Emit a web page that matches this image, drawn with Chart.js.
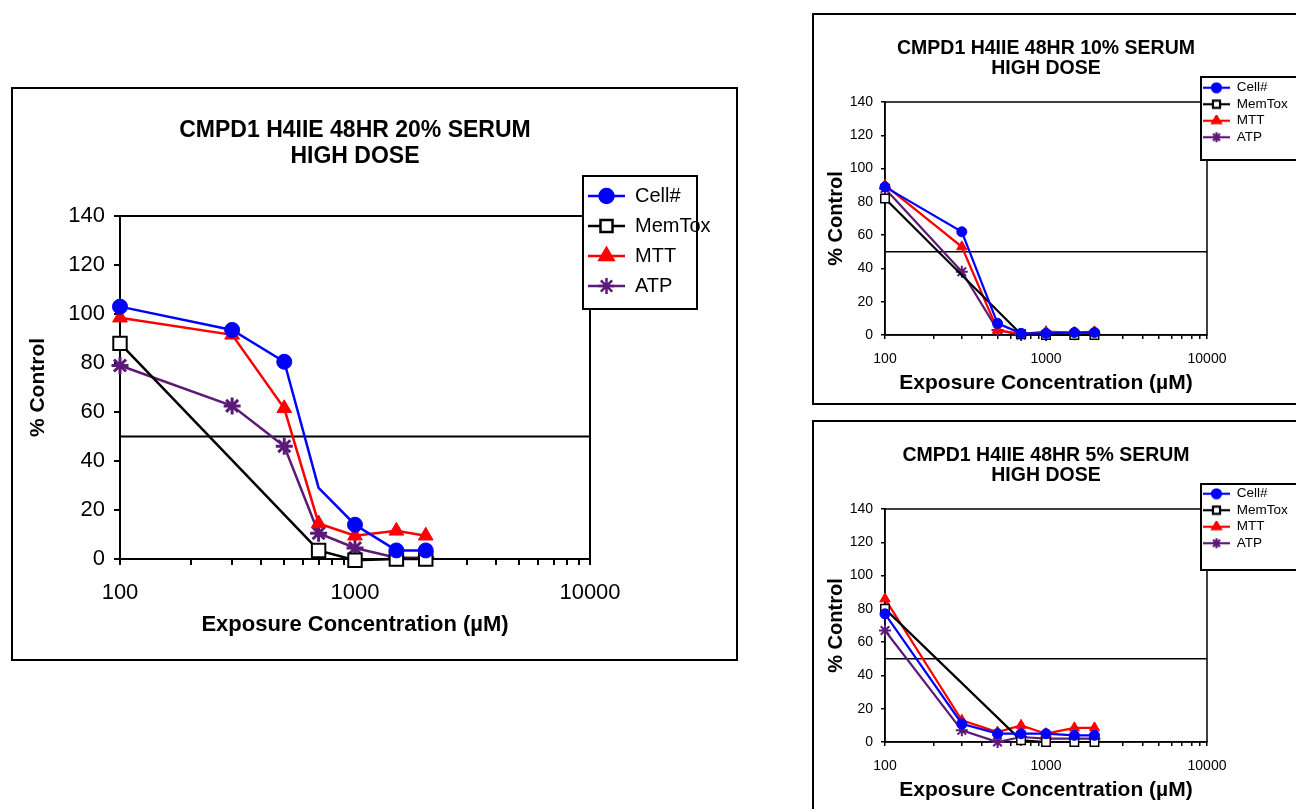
<!DOCTYPE html>
<html>
<head>
<meta charset="utf-8">
<script src="https://cdn.jsdelivr.net/npm/chart.js@4/dist/chart.umd.min.js"></script>
<style>
html, body { margin: 0; padding: 0; background: #fff; width: 1296px; height: 809px; overflow: hidden; }
.box { position: absolute; box-sizing: border-box; border: 2px solid #000; background: #fff; }
.box canvas { display: block; }
</style>
</head>
<body>
<div class="box" style="left:11px;top:87px;width:727px;height:574px"><canvas id="c20" width="723" height="570"></canvas></div>
<div class="box" style="left:812px;top:13px;width:500px;height:392px"><canvas id="c10" width="496" height="388"></canvas></div>
<div class="box" style="left:812px;top:420px;width:500px;height:392px"><canvas id="c5" width="496" height="388"></canvas></div>
<script>
// x values (µM)
const concentrations = [100, 300, 500, 700, 1000, 1500, 2000];
const seriesNames = ['Cell#', 'MemTox', 'MTT', 'ATP'];

// 20% serum
const cell20   = [103, 93.5, 80.5, 29, 14, 3.5, 3.5];
const memtox20 = [88, null, null, 3.5, -0.5, 0, 0];
const mtt20    = [98.5, 91.5, 61.5, 14.5, 9.5, 11.5, 9.5];
const atp20    = [79, 62.5, 46, 10.5, 4.5, 0.5, 0.5];

// 10% serum
const cell10   = [89, 62, 7, 1, 1, 1.5, 1.5];
const memtox10 = [82, null, null, 0.5, 0, 0, 0];
const mtt10    = [90, 53, 3, 0.5, 2, 1.5, 2];
const atp10    = [88, 38, 3, 0, 0, 0.5, 1];

// 5% serum
const cell5    = [77, 11, 5, 5, 5, 4, 4];
const memtox5  = [80, null, null, 1, 0, 0, 0];
const mtt5     = [86, 13, 6, 10, 5, 8.5, 8.5];
const atp5     = [67, 7, 0, 3, 2, 2, 2];

// 50% line
const cutoffX = [100, 10000];
const cutoffY = [50, 50];

// axis ticks
const xTickValues = [100, 200, 300, 400, 500, 600, 700, 800, 900,
                     1000, 2000, 3000, 4000, 5000, 6000, 7000, 8000, 9000, 10000];
const xTickLabels = [100, 1000, 10000];

Chart.defaults.font.family = "'Liberation Sans', Arial, sans-serif";
Chart.defaults.color = '#000';

const styles = [
  { color: '#0000ff', fill: '#0000ff', pointStyle: 'circle' },
  { color: '#000000', fill: '#ffffff', pointStyle: 'rect' },
  { color: '#ff0000', fill: '#ff0000', pointStyle: 'triangle' },
  { color: '#5c1a78', fill: '#5c1a78', pointStyle: 'star' }
];

// sizes for big / small panels
const big = {
  w: 723, right: 577, yW: 107, xH: 100,
  titleSize: 23, titleLH: 25.5, titlePad: { top: 29, bottom: 47 },
  tickSize: 22, tickLen: 6, xTickPad: 15, yTickPad: 9,
  xTitleSize: 22, yTitleSize: 21, xTitlePad: 21, yTitlePad: 13,
  lineW: 2.5, axisW: 2,
  radius: [7.5, 9.5, 8.5, 8.5], pbw: [1, 2, 1, 3],
  legendFont: 20, legendPad: 10, iconW: 37, iconH: 20, iconR: [7, 8.5, 8, 8],
  box: { x: 570, y: 87, w: 114, h: 133 }, legendLeft: 565, legendTop: 87
};
const small = {
  w: 496, right: 393, yW: 71, xH: 68,
  titleSize: 19.5, titleLH: 20, titlePad: { top: 24, bottom: 23 },
  tickSize: 14, tickLen: 4, xTickPad: 12, yTickPad: 8,
  xTitleSize: 21, yTitleSize: 20, xTitlePad: 7, yTitlePad: 10,
  lineW: 2.2, axisW: 1.5,
  radius: [5, 6, 6, 6], pbw: [1, 1.5, 1, 2],
  legendFont: 13.5, legendPad: 3, iconW: 27, iconH: 12, iconR: [4.5, 5, 5, 5],
  box: { x: 387, y: 62, w: 115, h: 83 }, legendLeft: 386, legendTop: 63
};

function makeIcon(st, w, h, r, lw) {
  const c = document.createElement('canvas');
  c.width = w; c.height = h;
  const x = c.getContext('2d');
  x.strokeStyle = st.color;
  x.lineWidth = lw;
  x.beginPath(); x.moveTo(0, h / 2); x.lineTo(w, h / 2); x.stroke();
  x.fillStyle = st.fill;
  Chart.helpers.drawPoint(x, { pointStyle: st.pointStyle, radius: r, borderWidth: lw, rotation: 0 }, w / 2, h / 2);
  return c;
}

// plot frame + legend box, and move the legend where it sits in the picture
const framePlugin = {
  id: 'frame',
  beforeDraw(chart, args, opts) {
    const { ctx, chartArea: a } = chart;
    ctx.save();
    ctx.strokeStyle = '#000';
    ctx.lineWidth = opts.lineWidth;
    ctx.strokeRect(a.left, a.top, a.right - a.left, a.bottom - a.top);
    const b = opts.box;
    ctx.fillStyle = '#fff';
    ctx.fillRect(b.x, b.y, b.w, b.h);
    ctx.lineWidth = 2;
    ctx.strokeRect(b.x, b.y, b.w, b.h);
    ctx.restore();
    const lg = chart.legend;
    lg.left = opts.legendLeft; lg.top = opts.legendTop;
    lg.right = lg.left + 300; lg.bottom = lg.top + 400;
  }
};

function makeChart(id, title, seriesValues, g, hideMarker) {
  const icons = styles.map((st, i) => makeIcon(st, g.iconW, g.iconH, g.iconR[i], g.lineW));
  const datasets = seriesValues.map((vals, i) => ({
    label: seriesNames[i],
    data: concentrations.map((x, k) => ({ x: x, y: vals[k] })),
    borderColor: styles[i].color,
    backgroundColor: styles[i].fill,
    pointBackgroundColor: styles[i].fill,
    pointBorderColor: styles[i].color,
    pointStyle: styles[i].pointStyle,
    pointRadius: ctx => (hideMarker && hideMarker[i] === ctx.dataIndex) ? 0 : g.radius[i],
    pointBorderWidth: g.pbw[i],
    borderWidth: g.lineW,
    tension: 0,
    spanGaps: true,
    clip: false
  }));
  datasets.push({
    label: '50%',
    data: cutoffX.map((x, k) => ({ x: x, y: cutoffY[k] })),
    borderColor: '#000', borderWidth: g.axisW, pointRadius: 0
  });

  const tickFont = { size: g.tickSize };
  const grid = { drawOnChartArea: false, drawTicks: true, tickLength: g.tickLen, color: '#000', lineWidth: g.axisW };
  const border = { display: true, color: '#000', width: g.axisW };

  return new Chart(document.getElementById(id), {
    type: 'line',
    data: { datasets: datasets },
    options: {
      responsive: false,
      animation: false,
      events: [],
      layout: { padding: { left: 0, top: 0, bottom: 0, right: g.w - g.right } },
      scales: {
        x: {
          type: 'logarithmic', min: 100, max: 10000,
          afterBuildTicks: s => { s.ticks = xTickValues.map(v => ({ value: v })); },
          afterFit: s => { s.height = g.xH; },
          ticks: {
            autoSkip: false, maxRotation: 0, padding: g.xTickPad, font: tickFont, color: '#000',
            callback: v => xTickLabels.includes(Number(v)) ? String(v) : ''
          },
          grid: grid, border: border,
          title: { display: true, text: 'Exposure Concentration (µM)', color: '#000',
                   font: { size: g.xTitleSize, weight: 'bold' },
                   padding: { top: 0, bottom: g.xTitlePad } }
        },
        y: {
          min: 0, max: 140,
          afterFit: s => { s.width = g.yW; },
          ticks: { stepSize: 20, padding: g.yTickPad, font: tickFont, color: '#000' },
          grid: grid, border: border,
          title: { display: true, text: '% Control', color: '#000',
                   font: { size: g.yTitleSize, weight: 'bold' },
                   padding: { top: g.yTitlePad, bottom: 0 } }
        }
      },
      plugins: {
        title: {
          display: true, fullSize: false, text: [title, 'HIGH DOSE'], color: '#000',
          font: { size: g.titleSize, weight: 'bold', lineHeight: g.titleLH / g.titleSize },
          padding: g.titlePad
        },
        legend: {
          display: true, position: 'chartArea', align: 'start',
          labels: {
            usePointStyle: true, pointStyleWidth: g.iconW, padding: g.legendPad,
            font: { size: g.legendFont }, color: '#000',
            filter: item => item.datasetIndex < 4,
            generateLabels: chart => {
              const items = Chart.defaults.plugins.legend.labels.generateLabels(chart);
              items.forEach(it => { if (icons[it.datasetIndex]) it.pointStyle = icons[it.datasetIndex]; });
              return items;
            }
          }
        },
        tooltip: { enabled: false },
        frame: { lineWidth: g.axisW, box: g.box, legendLeft: g.legendLeft, legendTop: g.legendTop }
      }
    },
    plugins: [framePlugin]
  });
}

makeChart('c20', 'CMPD1 H4IIE 48HR 20% SERUM', [cell20, memtox20, mtt20, atp20], big, [3]);
makeChart('c10', 'CMPD1 H4IIE 48HR 10% SERUM', [cell10, memtox10, mtt10, atp10], small);
makeChart('c5', 'CMPD1 H4IIE 48HR 5% SERUM', [cell5, memtox5, mtt5, atp5],
  Object.assign({}, small, { box: { x: 387, y: 62, w: 115, h: 86 }, legendTop: 62 }));
</script>
</body>
</html>
